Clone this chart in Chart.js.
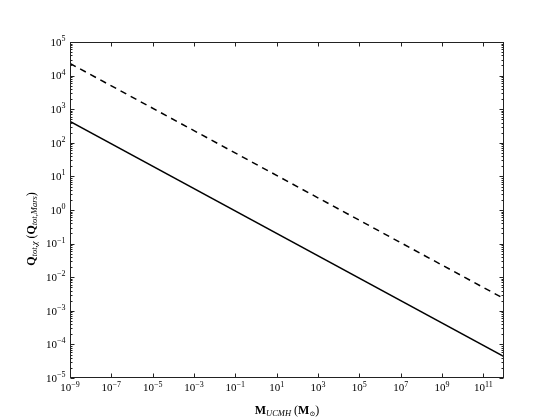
<!DOCTYPE html>
<html>
<head>
<meta charset="utf-8">
<script src="https://cdn.jsdelivr.net/npm/chart.js@4/dist/chart.umd.min.js"></script>
<style>
  html, body { margin: 0; padding: 0; background: #fff; }
  #wrap { width: 560px; height: 420px; }
</style>
</head>
<body>
<div id="wrap"><canvas id="c" width="560" height="420"></canvas></div>
<script>
// values (log-log power laws, two end points each)
const massUCMH = [1e-9, 1e12];
const qSolid = [430, 4.3e-5];
const qDashed = [2.3e4, 2.3e-3];
const xTickExps = [-9, -7, -5, -3, -1, 1, 3, 5, 7, 9, 11];
const yTickExps = [-5, -4, -3, -2, -1, 0, 1, 2, 3, 4, 5];

const SERIF = "'Liberation Serif', 'DejaVu Serif', serif";

function points(xs, ys) {
  return xs.map((x, i) => ({ x, y: ys[i] }));
}

function expLabel(e) {
  return e < 0 ? '\u2212' + Math.abs(e) : String(e);
}

// draw a run of text pieces with their own fonts and vertical shifts
function drawRich(ctx, parts, cx, cy, align) {
  let total = 0;
  parts.forEach(p => { ctx.font = p.font; total += ctx.measureText(p.text).width; });
  let x = align === 'right' ? cx - total : align === 'left' ? cx : cx - total / 2;
  ctx.textAlign = 'left';
  ctx.textBaseline = 'middle';
  parts.forEach(p => {
    ctx.font = p.font;
    ctx.fillText(p.text, x, cy + (p.dy || 0));
    x += ctx.measureText(p.text).width;
  });
}

function powerLabel(e) {
  return [
    { text: '10', font: `11px ${SERIF}` },
    { text: expLabel(e), font: `8px ${SERIF}`, dy: -4 }
  ];
}

const mplAxes = {
  id: 'mplAxes',
  afterDraw(chart) {
    const { ctx, chartArea: a, scales: { x, y } } = chart;
    const L = Math.round(a.left) + 0.5, R = Math.round(a.right) - 0.5;
    const T = Math.round(a.top) + 0.5, B = Math.round(a.bottom) - 0.5;
    ctx.save();
    ctx.strokeStyle = '#222';
    ctx.lineWidth = 1;
    ctx.strokeRect(L, T, R - L, B - T);

    ctx.beginPath();
    // x major ticks, bottom and top, pointing inward
    xTickExps.forEach(e => {
      const px = Math.round(x.getPixelForValue(Math.pow(10, e))) + 0.5;
      ctx.moveTo(px, B); ctx.lineTo(px, B - 4);
      ctx.moveTo(px, T); ctx.lineTo(px, T + 4);
    });
    // y major and minor ticks, left and right
    yTickExps.forEach(e => {
      const py = Math.round(y.getPixelForValue(Math.pow(10, e))) + 0.5;
      ctx.moveTo(L, py); ctx.lineTo(L + 4, py);
      ctx.moveTo(R, py); ctx.lineTo(R - 4, py);
      if (e < 5) {
        for (let m = 2; m <= 9; m++) {
          const pm = Math.round(y.getPixelForValue(m * Math.pow(10, e))) + 0.5;
          ctx.moveTo(L, pm); ctx.lineTo(L + 2, pm);
          ctx.moveTo(R, pm); ctx.lineTo(R - 2, pm);
        }
      }
    });
    ctx.stroke();

    ctx.fillStyle = '#000';
    xTickExps.forEach(e => {
      const px = x.getPixelForValue(Math.pow(10, e));
      drawRich(ctx, powerLabel(e), px, B + 11, 'center');
    });
    yTickExps.forEach(e => {
      const py = y.getPixelForValue(Math.pow(10, e));
      drawRich(ctx, powerLabel(e), L - 5, py + 1, 'right');
    });

    // axis titles
    const big = `bold 12px ${SERIF}`, reg = `12px ${SERIF}`, sub = `italic 8.5px ${SERIF}`;
    drawRich(ctx, [
      { text: 'M', font: big },
      { text: 'UCMH', font: sub, dy: 3 },
      { text: ' (', font: reg },
      { text: 'M', font: big },
      { text: '\u2299', font: `7px ${SERIF}`, dy: 3 },
      { text: ')', font: reg }
    ], (a.left + a.right) / 2, 411, 'center');

    ctx.translate(32, 229);
    ctx.rotate(-Math.PI / 2);
    drawRich(ctx, [
      { text: 'Q', font: big },
      { text: 'tot,\u03c7', font: sub, dy: 3 },
      { text: ' (', font: reg },
      { text: 'Q', font: big },
      { text: 'tot,Mars', font: sub, dy: 3 },
      { text: ')', font: reg }
    ], 0, 0, 'center');
    ctx.restore();
  }
};

new Chart(document.getElementById('c'), {
  type: 'line',
  data: {
    datasets: [
      {
        label: 'solid',
        data: points(massUCMH, qSolid),
        borderColor: '#000',
        borderWidth: 1.5,
        pointRadius: 0,
        fill: false
      },
      {
        label: 'dashed',
        data: points(massUCMH, qDashed),
        borderColor: '#000',
        borderWidth: 1.5,
        borderDash: [6.5, 5],
        pointRadius: 0,
        fill: false
      }
    ]
  },
  options: {
    responsive: false,
    animation: false,
    events: [],
    layout: { padding: { left: 70, right: 56, top: 42, bottom: 42 } },
    plugins: { legend: { display: false }, tooltip: { enabled: false } },
    scales: {
      x: { type: 'logarithmic', min: 1e-9, max: 1e12, display: false },
      y: { type: 'logarithmic', min: 1e-5, max: 1e5, display: false }
    }
  },
  plugins: [mplAxes]
});
</script>
</body>
</html>
